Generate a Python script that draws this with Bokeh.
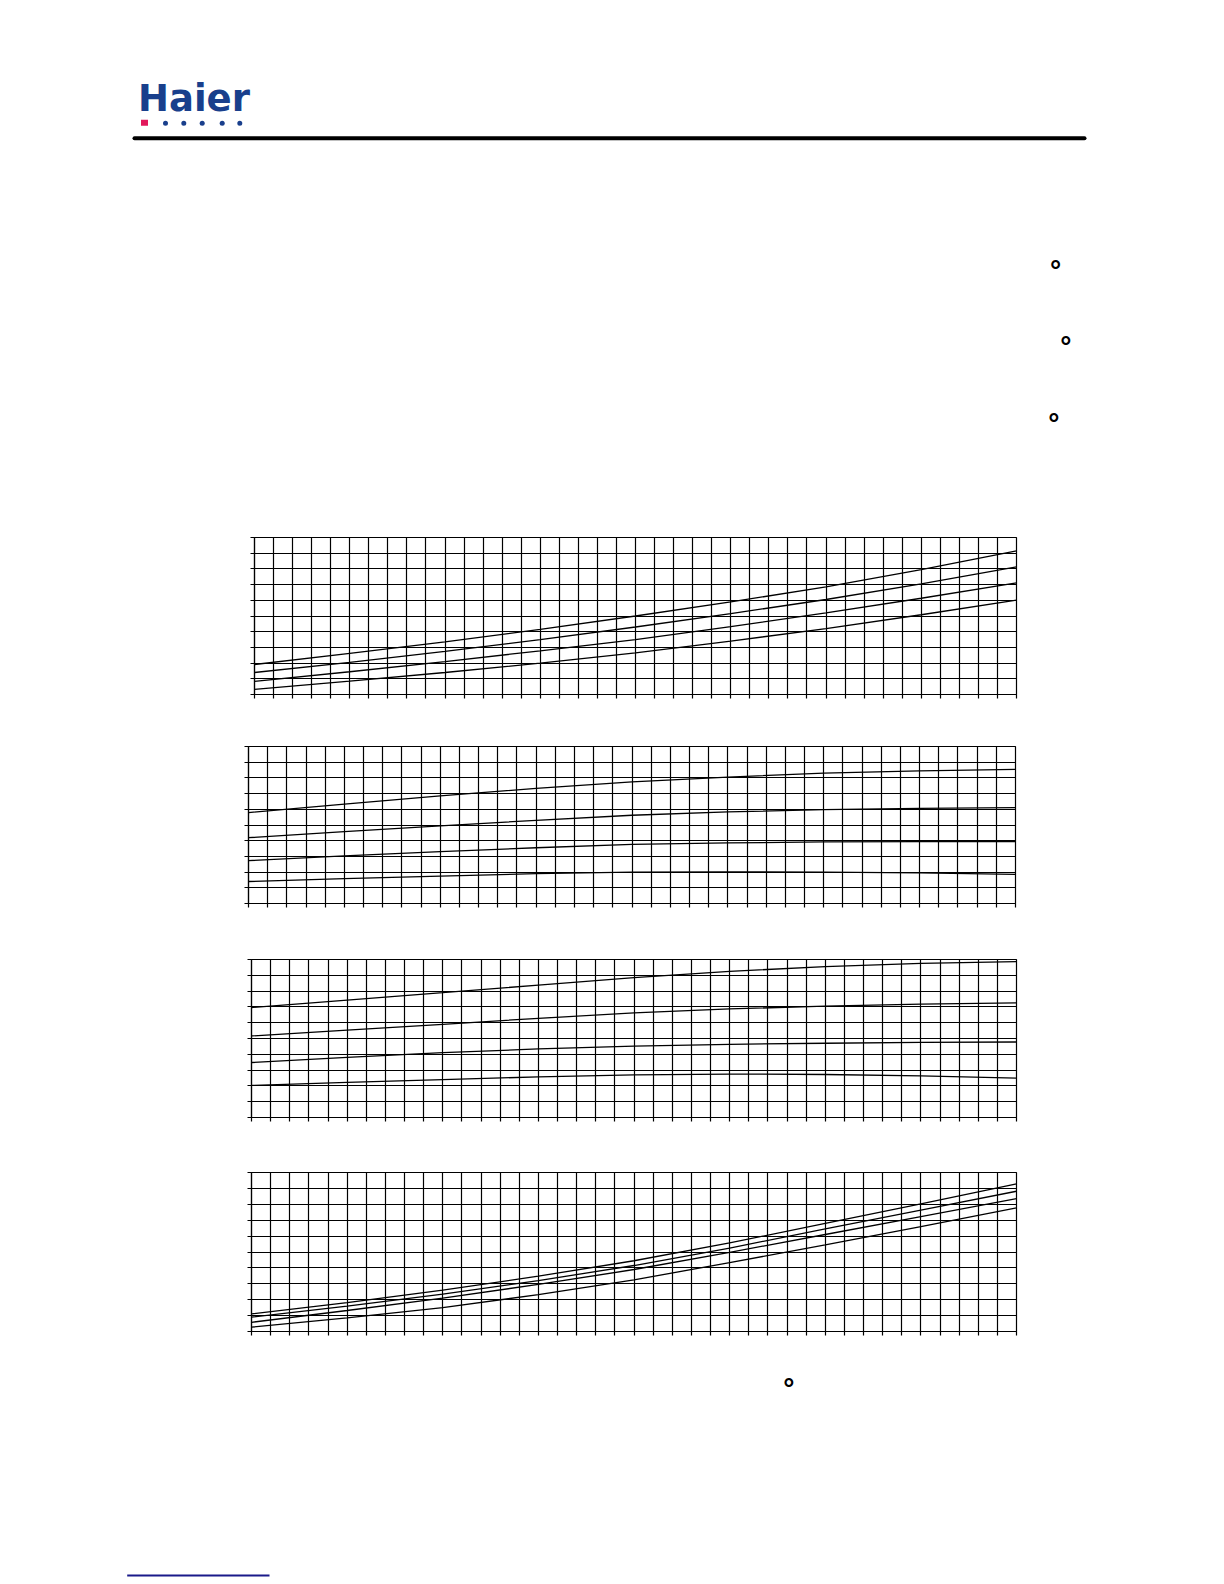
from bokeh.plotting import figure
from bokeh.models import Range1d, FixedTicker
from bokeh.layouts import column
from bokeh.embed import file_html
from bokeh.resources import INLINE
from bokeh.core.properties import value

# ---------------- data (grid units: x 0..40 columns, y 0..10 rows) ----------------
x_pts = [0, 5, 10, 15, 20, 25, 30, 35, 40]
x_ticks = list(range(0, 41))
y_ticks = list(range(0, 11))

# panel 1
p1_a = [1.91, 2.62, 3.35, 4.15, 5.00, 5.90, 6.85, 7.95, 9.15]
p1_b = [1.40, 2.05, 2.75, 3.50, 4.30, 5.15, 6.05, 7.05, 8.13]
p1_c = [0.83, 1.45, 2.10, 2.78, 3.50, 4.32, 5.20, 6.13, 7.11]
p1_d = [0.32, 0.85, 1.40, 2.00, 2.65, 3.40, 4.20, 5.08, 6.01]
# panel 2
p2_a = [5.79, 6.33, 6.85, 7.33, 7.75, 8.05, 8.30, 8.45, 8.54]
p2_b = [4.19, 4.58, 4.95, 5.30, 5.62, 5.83, 5.98, 6.06, 6.11]
p2_c = [2.73, 3.03, 3.30, 3.55, 3.76, 3.86, 3.92, 3.94, 3.95]
p2_d = [1.40, 1.58, 1.75, 1.90, 2.00, 2.02, 2.00, 1.95, 1.86]
# panel 3
p3_a = [6.96, 7.43, 7.90, 8.38, 8.85, 9.25, 9.55, 9.75, 9.87]
p3_b = [5.16, 5.53, 5.90, 6.28, 6.62, 6.87, 7.05, 7.17, 7.25]
p3_c = [3.48, 3.80, 4.10, 4.34, 4.52, 4.63, 4.70, 4.75, 4.78]
p3_d = [2.03, 2.22, 2.40, 2.57, 2.70, 2.75, 2.72, 2.63, 2.49]
# panel 4
p4_a = [1.11, 1.82, 2.60, 3.48, 4.45, 5.57, 6.80, 8.02, 9.29]
p4_b = [0.90, 1.60, 2.35, 3.20, 4.15, 5.25, 6.45, 7.63, 8.82]
p4_c = [0.58, 1.32, 2.10, 2.96, 3.90, 4.98, 6.10, 7.22, 8.35]
p4_d = [0.27, 0.86, 1.50, 2.32, 3.25, 4.33, 5.45, 6.60, 7.78]

logo_text = "Haier"
degree = "\u00b0"

PAGE_W = 1216
NAVY = "#193f8c"
DEG_SIZE = 28
DEG_DY = 5  # baseline offset below ring centre


def canvas(h):
    p = figure(width=PAGE_W, height=h, x_range=Range1d(0, PAGE_W), y_range=Range1d(h, 0),
               output_backend="svg", toolbar_location=None, min_border=0,
               x_axis_location=None, y_axis_location=None, frame_align=False)
    p.min_border_left = p.min_border_right = p.min_border_top = p.min_border_bottom = 0
    p.grid.visible = False
    p.outline_line_color = None
    return p


def panel(series, top, frame_h, bottom, left, frame_w):
    right = PAGE_W - left - frame_w
    p = figure(width=PAGE_W, height=top + frame_h + bottom,
               x_range=Range1d(0, 40), y_range=Range1d(0, 10),
               output_backend="svg", toolbar_location=None, frame_align=False,
               min_border_left=left, min_border_right=right,
               min_border_top=top, min_border_bottom=bottom)
    p.outline_line_color = "black"
    p.outline_line_width = 1.2
    for g, t in ((p.xgrid, x_ticks), (p.ygrid, y_ticks)):
        g.ticker = FixedTicker(ticks=t)
        g.grid_line_color = "black"
        g.grid_line_alpha = 1
        g.grid_line_width = 1.2
    for ax, t in ((p.xaxis, x_ticks), (p.yaxis, y_ticks)):
        ax.ticker = FixedTicker(ticks=t)
        ax.major_tick_out = 4
        ax.major_tick_in = 0
        ax.major_tick_line_color = "black"
        ax.major_tick_line_width = 1.2
        ax.minor_tick_line_color = None
        ax.axis_line_color = "black"
        ax.axis_line_width = 1.2
        ax.major_label_text_color = None
    for ys in series:
        p.line(x_pts, ys, line_color="black", line_width=1.3)
    return p


# ---------------- header (page y 0..520) ----------------
hdr = canvas(520)
hdr.text(x=[137.5], y=[97.7], text=[logo_text], text_font=value("DejaVu Sans"),
         text_font_style="bold", text_font_size="37px", text_color=NAVY,
         text_baseline="alphabetic", text_align="left")
hdr.rect(x=[144], y=[122.2], width=7, height=6, fill_color="#e2185b", line_color=None)
hdr.scatter(x=[165, 183.3, 201.7, 221.7, 239.3], y=[122.7] * 5, size=5,
            fill_color=NAVY, line_color=None)
hdr.segment(x0=[134], y0=[137.7], x1=[1084], y1=[137.7], line_color="black",
            line_width=4, line_cap="round")
hdr.text(x=[1055, 1065.3, 1053.3], y=[265.3 + DEG_DY, 341.3 + DEG_DY, 418 + DEG_DY],
         text=[degree] * 3, text_font=value("Liberation Sans"), text_font_size=f"{DEG_SIZE}px",
         text_font_style="bold", text_color="black", text_align="center",
         text_baseline="alphabetic")

# ---------------- panels ----------------
pan1 = panel([p1_a, p1_b, p1_c, p1_d], top=17, frame_h=157, bottom=26, left=254, frame_w=762)
pan2 = panel([p2_a, p2_b, p2_c, p2_d], top=26, frame_h=157, bottom=27, left=248, frame_w=767)
pan3 = panel([p3_a, p3_b, p3_c, p3_d], top=29, frame_h=158, bottom=28, left=251, frame_w=765)
pan4 = panel([p4_a, p4_b, p4_c, p4_d], top=27, frame_h=159, bottom=24, left=251, frame_w=765)

# ---------------- footer (page y 1355..1580) ----------------
FT0 = 1355
ftr = canvas(225)
ftr.text(x=[788.3], y=[1383.3 - FT0 + DEG_DY], text=[degree], text_font=value("Liberation Sans"),
         text_font_size=f"{DEG_SIZE}px", text_font_style="bold", text_color="black",
         text_align="center", text_baseline="alphabetic")
ftr.segment(x0=[126.7], y0=[1575 - FT0], x1=[269], y1=[1575 - FT0], line_color="#1a1a8a", line_width=2)

layout = column(hdr, pan1, pan2, pan3, pan4, ftr, spacing=0)
open("out.html", "w").write(file_html(layout, INLINE))
